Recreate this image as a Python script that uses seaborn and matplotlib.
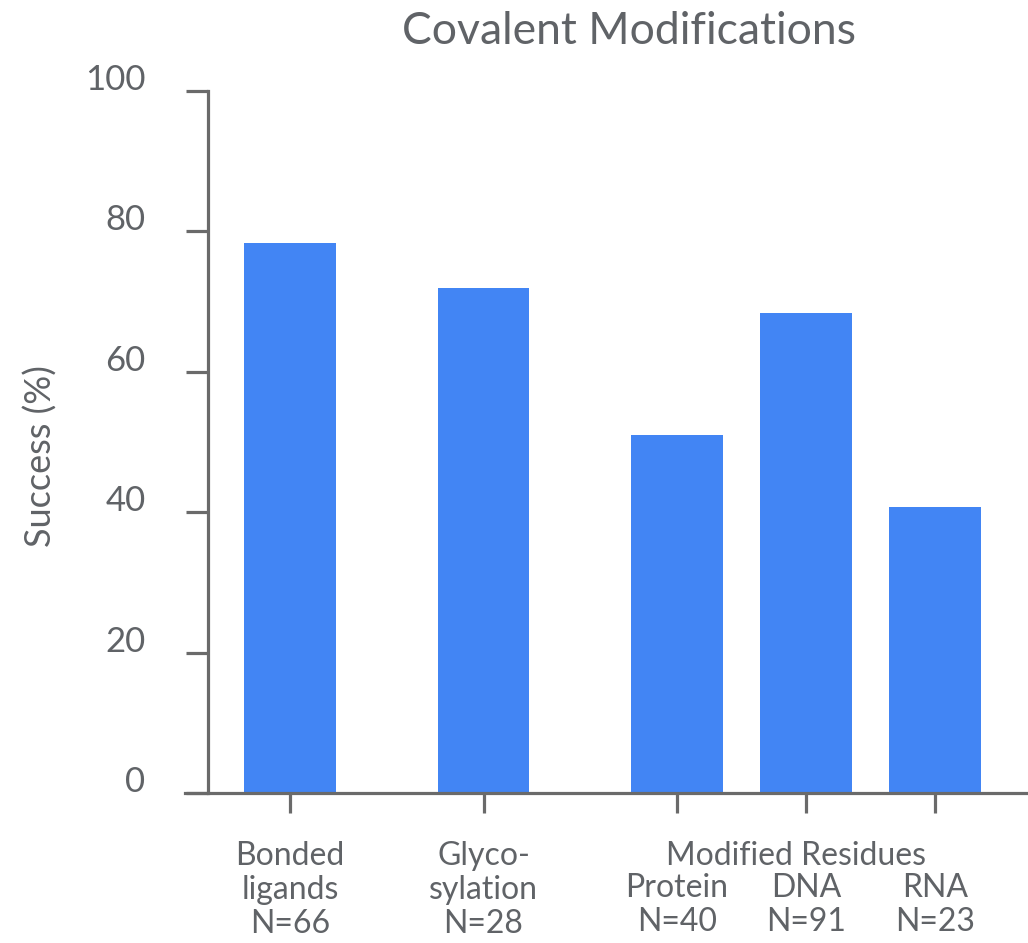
import matplotlib
matplotlib.use("Agg")
import matplotlib.pyplot as plt
from matplotlib.transforms import ScaledTranslation
import seaborn as sns

# Success rate per covalent-modification class
groups = ["Bonded ligands", "Glycosylation", "Protein", "DNA", "RNA"]
tick_labels = ["Bonded\nligands", "Glyco-\nsylation", "Protein", "DNA", "RNA"]
counts = [66, 28, 40, 91, 23]
success = [78.4, 72.0, 51.0, 68.4, 40.7]
positions = [0, 1.5, 3, 4, 5]
y_ticks = [0, 20, 40, 60, 80, 100]
group_header = "Modified Residues"
header_members = ["Protein", "DNA", "RNA"]

sns.set_theme(style="white")
plt.rcParams["font.family"] = ["Lato", "DejaVu Sans"]

TEXT = "#606367"
AXIS = "#6a6a6a"
BLUE = "#4285F4"

fig = plt.figure(figsize=(10.28, 9.43), dpi=100)
W, H = 1028, 943
ax = fig.add_axes([185 / W, 1 - 793 / H, (W - 185) / W, (793 - 91) / H])

sns.barplot(x=positions, y=success, native_scale=True, width=0.71,
            color=BLUE, saturation=1, linewidth=0, ax=ax)

ax.set_xlim(-0.814, 5.72)
ax.set_ylim(0, 100)

for side in ("top", "right"):
    ax.spines[side].set_visible(False)
ax.spines["left"].set_position(("data", -0.636))
for side in ("left", "bottom"):
    ax.spines[side].set_color(AXIS)
    ax.spines[side].set_linewidth(2.3)

# y axis
ax.set_yticks(y_ticks)
ax.set_yticklabels([str(v) for v in y_ticks])
ax.tick_params(axis="y", direction="out", length=16, width=2.3, color=AXIS,
               pad=29, labelsize=25, labelcolor=TEXT, left=True)
shift = ScaledTranslation(0, 14 / 100, fig.dpi_scale_trans)
for tick in ax.yaxis.get_major_ticks():
    tick.label1.set_transform(tick.label1.get_transform() + shift)

ax.set_ylabel("Success (%)", fontsize=26, color=TEXT)
ax.yaxis.set_label_coords(-0.151, 0.48)

# x axis: category + sample size
XPAD = 20
LINE = 23.2  # one text line, in points
XSIZE = 23
ax.set_xticks(positions)
ax.set_xticklabels([f"{t}\nN={n}" for t, n in zip(tick_labels, counts)],
                   linespacing=1.17)
ax.tick_params(axis="x", direction="out", length=14.5, width=2.3, color=AXIS,
               pad=XPAD, labelsize=XSIZE, labelcolor=TEXT, bottom=True)
# labels under the shared header start one line lower
for tick, name in zip(ax.xaxis.get_major_ticks(), groups):
    if name in header_members:
        tick.set_pad(XPAD + LINE)

ax.annotate(group_header, xy=(3.92, 0), xycoords=("data", "axes fraction"),
            xytext=(0, -(14.5 + XPAD)), textcoords="offset points",
            ha="center", va="top", fontsize=XSIZE, color=TEXT)

fig.text(629 / W, 1 - 31 / H, "Covalent Modifications", ha="center",
         va="center", fontsize=32, color=TEXT)

fig.savefig("out.png", dpi=100, facecolor="white")
